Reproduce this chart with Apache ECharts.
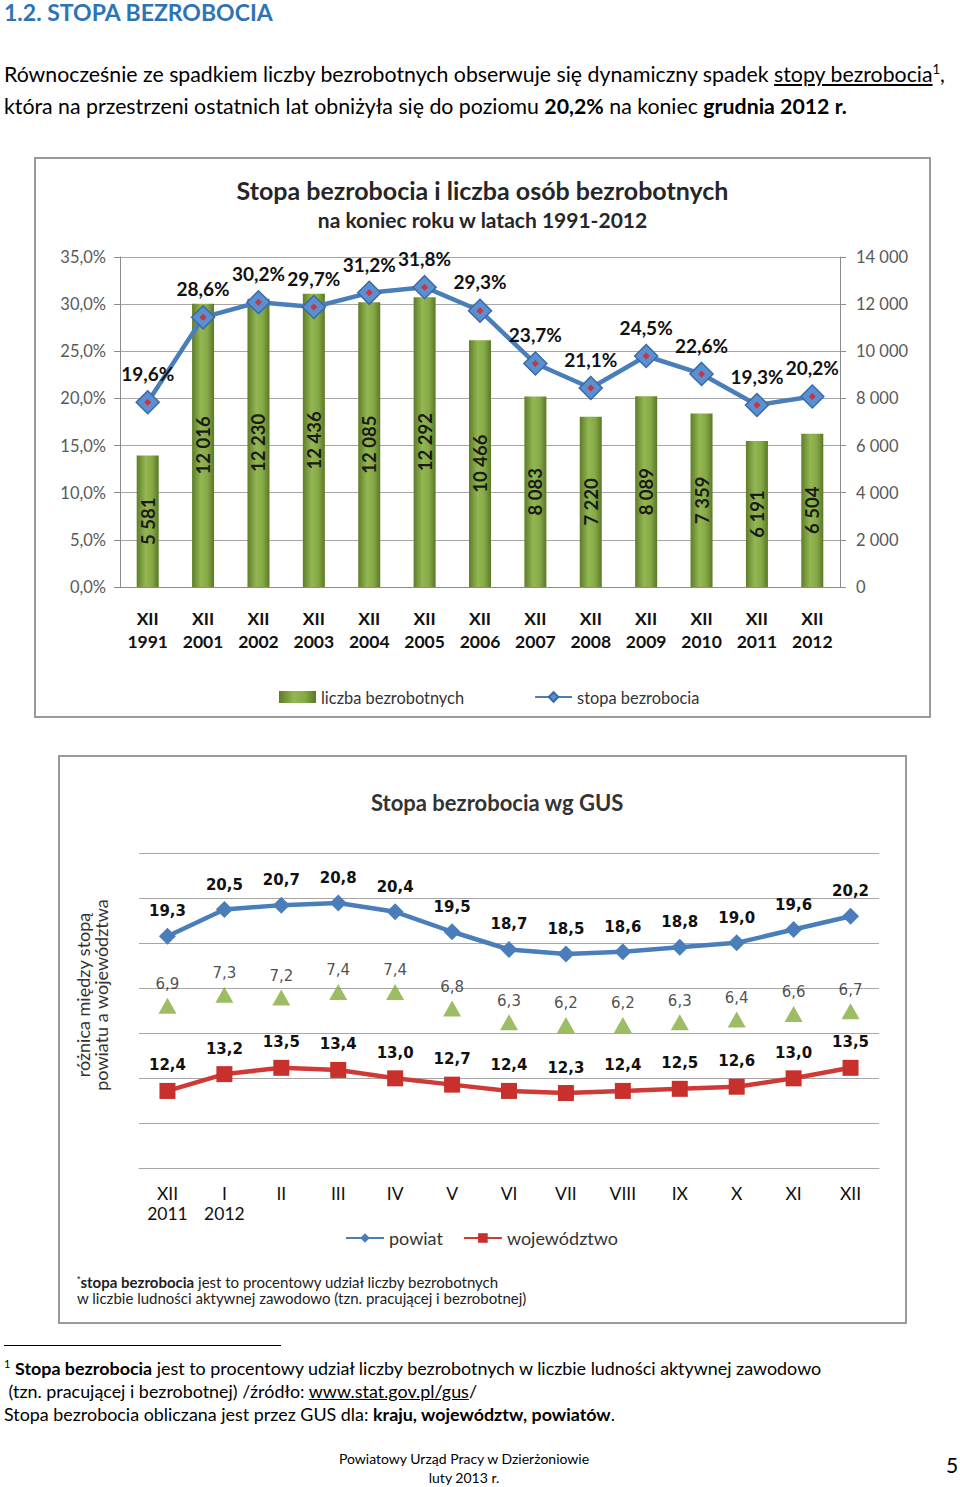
<!DOCTYPE html>
<html><head><meta charset="utf-8">
<script src="https://cdn.jsdelivr.net/npm/echarts@6/dist/echarts.min.js"></script>
<style>
html,body{margin:0;padding:0;background:#fff;}
body{width:960px;height:1487px;position:relative;overflow:hidden;font-family:Lato,"Open Sans",sans-serif;color:#000;}
.abs{position:absolute;}
#h1{left:4px;top:-3px;font-weight:bold;font-size:23px;color:#2e74b5;line-height:30px;white-space:nowrap;}
#para{left:4px;top:58px;font-size:21.3px;line-height:32px;white-space:nowrap;}
sup{font-size:13px;line-height:0;}
.frame{border:2px solid #9a9a9a;box-sizing:border-box;}
#fnrule{left:4px;top:1345px;width:277px;height:1px;background:#000;}
#fn{left:4px;top:1357px;font-size:17.9px;line-height:23px;white-space:nowrap;}
#fn sup{font-size:11px;}
#footer{left:264px;width:400px;top:1449px;text-align:center;font-size:14px;line-height:19px;}
#pnum{left:946px;top:1451px;font-size:21px;line-height:28px;}
</style></head>
<body>
<div id="h1" class="abs">1.2. STOPA BEZROBOCIA</div>
<div id="para" class="abs">Równocześnie ze spadkiem liczby bezrobotnych obserwuje się dynamiczny spadek <u>stopy bezrobocia</u><sup>1</sup>,<br>która na przestrzeni ostatnich lat obniżyła się do poziomu <b>20,2%</b> na koniec <b>grudnia 2012 r.</b></div>
<div class="abs frame" style="left:34px;top:157px;width:897px;height:561px;"><div id="c1" style="width:893px;height:557px;"></div></div>
<div class="abs frame" style="left:58px;top:755px;width:849px;height:569px;"><div id="c2" style="width:845px;height:565px;"></div></div>
<div id="fnrule" class="abs"></div>
<div id="fn" class="abs"><sup>1</sup> <b>Stopa bezrobocia</b> jest to procentowy udział liczby bezrobotnych w liczbie ludności aktywnej zawodowo<br>&nbsp;(tzn. pracującej i bezrobotnej) /źródło: <u>www.stat.gov.pl/gus</u>/<br>Stopa bezrobocia obliczana jest przez GUS dla: <b>kraju, województw, powiatów</b>.</div>
<div id="footer" class="abs">Powiatowy Urząd Pracy w Dzierżoniowie<br>luty 2013 r.</div>
<div id="pnum" class="abs">5</div>
<script>
// ---- Chart 1 data ----
const years = ['XII\n1991','XII\n2001','XII\n2002','XII\n2003','XII\n2004','XII\n2005','XII\n2006','XII\n2007','XII\n2008','XII\n2009','XII\n2010','XII\n2011','XII\n2012'];
const unemployedCount = [5581, 12016, 12230, 12436, 12085, 12292, 10466, 8083, 7220, 8089, 7359, 6191, 6504];
const unemploymentRate = [19.6, 28.6, 30.2, 29.7, 31.2, 31.8, 29.3, 23.7, 21.1, 24.5, 22.6, 19.3, 20.2];

// ---- Chart 2 data ----
const months = ['XII\n2011','I\n2012','II','III','IV','V','VI','VII','VIII','IX','X','XI','XII'];
const powiat = [19.3, 20.5, 20.7, 20.8, 20.4, 19.5, 18.7, 18.5, 18.6, 18.8, 19.0, 19.6, 20.2];
const wojewodztwo = [12.4, 13.2, 13.5, 13.4, 13.0, 12.7, 12.4, 12.3, 12.4, 12.5, 12.6, 13.0, 13.5];
const roznica = [6.9, 7.3, 7.2, 7.4, 7.4, 6.8, 6.3, 6.2, 6.2, 6.3, 6.4, 6.6, 6.7];

const F = 'Lato, "Open Sans", sans-serif';
const comma = v => v.toFixed(1).replace('.', ',');
const thou = v => String(v).replace(/\B(?=(\d{3})+(?!\d))/g, ' ');

const c1 = echarts.init(document.getElementById('c1'), null, {renderer: 'svg'});
c1.setOption({
  animation: false,
  textStyle: {fontFamily: F},
  title: [
    {text: 'Stopa bezrobocia i liczba osób bezrobotnych', left: 'center', top: 13,
     textStyle: {fontFamily: F, fontSize: 25, fontWeight: 'bold', color: '#262626'}},
    {text: 'na koniec roku w latach 1991-2012', left: 'center', top: 45,
     textStyle: {fontFamily: F, fontSize: 21, fontWeight: 'bold', color: '#262626'}}
  ],
  grid: {left: 84, top: 98, width: 720, height: 330},
  legend: {
    left: 238, top: 525, itemGap: 70, itemWidth: 37, itemHeight: 12,
    textStyle: {fontFamily: F, fontSize: 16.4, color: '#333'},
    data: [{name: 'liczba bezrobotnych', icon: 'rect'}, {name: 'stopa bezrobocia'}]
  },
  xAxis: {
    type: 'category', data: years,
    axisLine: {lineStyle: {color: '#8c8c8c'}},
    axisTick: {length: 10, lineStyle: {color: '#8c8c8c'}},
    axisLabel: {interval: 0, margin: 20, fontFamily: F, fontSize: 17.5, fontWeight: 'bold', color: '#111', lineHeight: 23}
  },
  yAxis: [
    {type: 'value', min: 0, max: 35, interval: 5,
     axisLine: {show: true, lineStyle: {color: '#8c8c8c'}},
     axisTick: {show: true, length: 6, lineStyle: {color: '#8c8c8c'}},
     axisLabel: {formatter: v => comma(v) + '%', fontFamily: F, fontSize: 16.5, color: '#595959', margin: 14},
     splitLine: {lineStyle: {color: '#a6a6a6'}}},
    {type: 'value', min: 0, max: 14000, interval: 2000,
     axisLine: {show: true, lineStyle: {color: '#8c8c8c'}},
     axisTick: {show: true, length: 6, lineStyle: {color: '#8c8c8c'}},
     axisLabel: {formatter: v => thou(v), fontFamily: F, fontSize: 16.5, color: '#595959', margin: 16},
     splitLine: {show: false}}
  ],
  series: [
    {name: 'liczba bezrobotnych', type: 'bar', yAxisIndex: 1, barWidth: 22, data: unemployedCount,
     itemStyle: {color: new echarts.graphic.LinearGradient(0, 0, 1, 0, [
       {offset: 0, color: '#5e7d28'}, {offset: 0.4, color: '#93b752'}, {offset: 0.7, color: '#86a947'}, {offset: 1, color: '#5a7824'}])},
     label: {show: true, position: 'inside', rotate: 90, formatter: p => thou(p.value),
       fontFamily: F, fontSize: 18.5, fontWeight: 'bold', color: '#1a1a1a'}},
    {name: 'stopa bezrobocia', type: 'line', yAxisIndex: 0, data: unemploymentRate,
     symbol: 'diamond', symbolSize: 23,
     lineStyle: {width: 4.5, color: '#4a7ebb'},
     itemStyle: {color: '#5b8fd0', borderColor: '#3a6aa5', borderWidth: 1.5},
     label: {show: true, position: 'top', distance: 7, formatter: p => comma(p.value) + '%',
       fontFamily: F, fontSize: 19, fontWeight: 'bold', color: '#111'}, z: 3},
    {name: 'dot', type: 'scatter', yAxisIndex: 0, data: unemploymentRate, symbol: 'diamond', symbolSize: 7,
     itemStyle: {color: '#e0201c'}, silent: true, z: 4}
  ]
});

const c2 = echarts.init(document.getElementById('c2'), null, {renderer: 'svg'});
const lblBold = {fontFamily: '"DejaVu Sans", sans-serif', fontSize: 15, fontWeight: 'bold', color: '#111'};
c2.setOption({
  animation: false,
  textStyle: {fontFamily: F},
  title: {text: 'Stopa bezrobocia wg GUS', left: 306, top: 29,
    textStyle: {fontFamily: F, fontSize: 22, fontWeight: 'bold', color: '#333'}},
  grid: {left: 79, top: 96, width: 740, height: 315},
  legend: {
    left: 280, top: 467, itemGap: 20, itemWidth: 38, itemHeight: 12,
    textStyle: {fontFamily: F, fontSize: 18, color: '#333'},
    data: ['powiat', 'województwo']
  },
  graphic: [
    {type: 'text', x: 32, y: 238, rotation: Math.PI / 2,
     style: {text: 'różnica między stopą\npowiatu a województwa', font: '18px ' + F, fill: '#333',
       textAlign: 'center', textVerticalAlign: 'middle', lineHeight: 18}},
    {type: 'text', left: 17, top: 517,
     style: {text: '{s|*}{b|stopa bezrobocia} jest to procentowy udział liczby bezrobotnych\nw liczbie ludności aktywnej zawodowo (tzn. pracującej i bezrobotnej)',
       font: '15px ' + F, fill: '#222', lineHeight: 16,
       rich: {s: {fontSize: 9, verticalAlign: 'top', fill: '#222'}, b: {fontWeight: 'bold', fontSize: 15, fontFamily: F, fill: '#222'}}}}
  ],
  xAxis: {
    type: 'category', data: months,
    axisLine: {lineStyle: {color: '#a6a6a6'}},
    axisTick: {length: 5, lineStyle: {color: '#a6a6a6'}},
    axisLabel: {interval: 0, margin: 15, fontFamily: F, fontSize: 17.5, color: '#111', lineHeight: 20}
  },
  yAxis: [
    {type: 'value', min: 0, max: 7, interval: 1, axisLabel: {show: false}, axisLine: {show: false}, axisTick: {show: false},
     splitLine: {lineStyle: {color: '#a6a6a6', width: 1.2}}},
    {type: 'value', min: 8.85, max: 23.05, show: false, splitLine: {show: false}},
    {type: 'value', min: 8.73, max: 23.73, show: false, splitLine: {show: false}},
    {type: 'value', min: 1.0, max: 12.45, show: false, splitLine: {show: false}}
  ],
  series: [
    {name: 'powiat', type: 'line', yAxisIndex: 1, data: powiat, symbol: 'diamond', symbolSize: 17,
     lineStyle: {width: 4.5, color: '#4a7ebb'}, itemStyle: {color: '#4a7ebb'},
     label: Object.assign({show: true, position: 'top', distance: 9, formatter: p => comma(p.value)}, lblBold)},
    {name: 'województwo', type: 'line', yAxisIndex: 2, data: wojewodztwo, symbol: 'rect', symbolSize: 16,
     lineStyle: {width: 4.5, color: '#d03a36'}, itemStyle: {color: '#c8302c'},
     label: Object.assign({show: true, position: 'top', distance: 10, formatter: p => comma(p.value)}, lblBold)},
    {name: 'różnica', type: 'scatter', yAxisIndex: 3, data: roznica, symbol: 'triangle', symbolSize: [18, 16],
     itemStyle: {color: '#84ad3e'},
     label: {show: true, position: 'top', distance: 6, formatter: p => comma(p.value),
       fontFamily: '"DejaVu Sans", sans-serif', fontSize: 15, color: '#222'}}
  ]
});
</script>
</body></html>
